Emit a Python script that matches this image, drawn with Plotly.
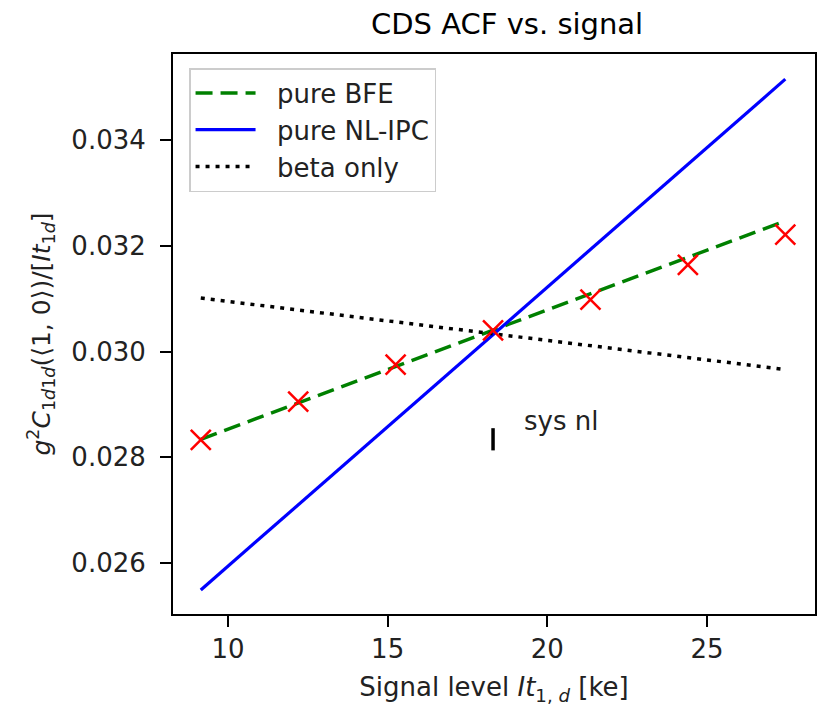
import plotly.graph_objects as go

# measured points (red crosses)
sig_x = [9.15, 12.2, 15.25, 18.3, 21.35, 24.4, 27.45]
acf_y = [0.02833, 0.02905, 0.02975, 0.03040, 0.03098, 0.03164, 0.03221]

# model lines (end points)
line_x = [9.15, 27.45]
bfe_y = [0.02834, 0.03247]
nlipc_y = [0.02549, 0.03515]
beta_y = [0.03101, 0.02966]

# systematic non-linearity bar
sys_x = [18.3]
sys_y = [0.02834]
sys_err = [0.00021]

FONT = "DejaVu Sans"
NB = "\u00a0\u00a0"

fig = go.Figure()
fig.add_trace(go.Scatter(x=line_x, y=bfe_y, mode="lines", name=NB + "pure BFE",
                         line=dict(color="#008000", width=3.5, dash="17px,8px")))
fig.add_trace(go.Scatter(x=line_x, y=nlipc_y, mode="lines", name=NB + "pure NL-IPC",
                         line=dict(color="#0000ff", width=3.2)))
fig.add_trace(go.Scatter(x=line_x, y=beta_y, mode="lines", name=NB + "beta only",
                         line=dict(color="black", width=3.5, dash="4px,6px")))
fig.add_trace(go.Scatter(x=sig_x, y=acf_y, mode="markers", showlegend=False,
                         marker=dict(symbol="x-thin", size=20, color="red",
                                     line=dict(color="red", width=2.5))))
fig.add_trace(go.Scatter(x=sys_x, y=sys_y, mode="markers", showlegend=False,
                         marker=dict(size=1, color="black"),
                         error_y=dict(type="data", array=sys_err, thickness=3.5,
                                      width=0, color="black")))

fig.add_annotation(x=19.2, y=0.02868, text="sys nl", showarrow=False,
                   xanchor="left", yanchor="middle",
                   font=dict(family=FONT, size=26, color="#222"))

W, H = 818, 702
L, R, T, B = 165, 11, 46, 96
PH = H - T - B

# title as annotation above the plot area
fig.add_annotation(x=(499 - L) / (W - L - R), xref="paper", xanchor="center",
                   y=1 + (T - 16) / PH, yref="paper", yanchor="middle",
                   text="CDS ACF vs. signal", showarrow=False,
                   font=dict(family=FONT, size=29, color="black"))

axis_common = dict(showline=True, linecolor="black", linewidth=2, mirror=True,
                   ticks="outside", ticklen=11, tickwidth=2, tickcolor="black",
                   showgrid=False, zeroline=False, automargin=False,
                   tickfont=dict(family=FONT, size=26, color="#222"))

fig.update_layout(
    width=W, height=H,
    margin=dict(l=L, r=R, t=T, b=B),
    plot_bgcolor="white", paper_bgcolor="white",
    xaxis=dict(range=[8.28, 28.38], tickvals=[10, 15, 20, 25],
               title=dict(text="Signal level <i>It</i><sub>1, <i>d</i></sub> [ke]",
                          font=dict(family=FONT, size=26, color="#222"), standoff=15),
               **axis_common),
    yaxis=dict(range=[0.025036, 0.035626], ticklabelstandoff=9,
               tickvals=[0.026, 0.028, 0.030, 0.032, 0.034], tickformat=".3f",
               title=dict(text="<i>g</i><sup>2</sup><i>C</i><sub>1<i>d</i>1<i>d</i></sub>(⟨1, 0⟩)/[<i>It</i><sub>1<i>d</i></sub>]",
                          font=dict(family=FONT, size=25, color="#222"), standoff=14),
               **axis_common),
    legend=dict(x=0.025, y=0.975, xanchor="left", yanchor="top",
                bgcolor="white", bordercolor="#cccccc", borderwidth=1.5,
                font=dict(family=FONT, size=26, color="#222"),
                itemwidth=60, tracegroupgap=0),
)

fig.write_html("out.html")
